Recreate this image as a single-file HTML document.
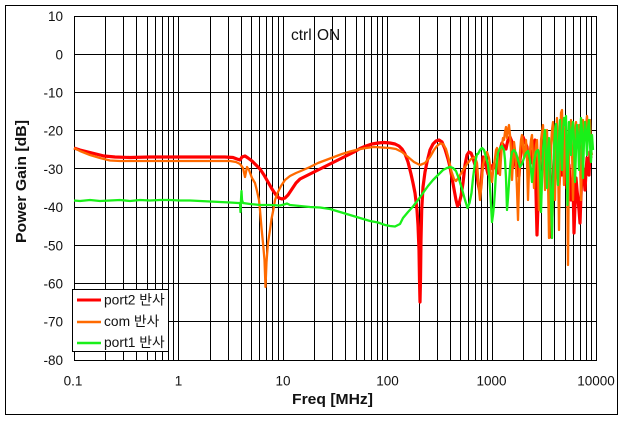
<!DOCTYPE html>
<html>
<head>
<meta charset="utf-8">
<style>
html,body{margin:0;padding:0;background:#fff;}
svg{display:block;}
text{font-family:"Liberation Sans","Noto Sans CJK KR",sans-serif;fill:#111;}
</style>
</head>
<body>
<svg width="625" height="421" viewBox="0 0 625 421" xmlns="http://www.w3.org/2000/svg">
<rect x="0" y="0" width="625" height="421" fill="#fff"/>
<rect x="5.5" y="5.5" width="612" height="409" fill="#fff" stroke="#000" stroke-width="1"/>

<!-- grid -->
<path fill="none" stroke="#000" stroke-width="1" d="
M105.5 16.5V360.5 M123.5 16.5V360.5 M136.5 16.5V360.5 M147.5 16.5V360.5 M155.5 16.5V360.5 M162.5 16.5V360.5 M168.5 16.5V360.5 M173.5 16.5V360.5
M178.5 16.5V360.5 M210.5 16.5V360.5 M228.5 16.5V360.5 M241.5 16.5V360.5 M251.5 16.5V360.5 M259.5 16.5V360.5 M266.5 16.5V360.5 M272.5 16.5V360.5 M278.5 16.5V360.5
M283.5 16.5V360.5 M314.5 16.5V360.5 M332.5 16.5V360.5 M345.5 16.5V360.5 M356.5 16.5V360.5 M364.5 16.5V360.5 M371.5 16.5V360.5 M377.5 16.5V360.5 M382.5 16.5V360.5
M387.5 16.5V360.5 M419.5 16.5V360.5 M437.5 16.5V360.5 M450.5 16.5V360.5 M460.5 16.5V360.5 M468.5 16.5V360.5 M475.5 16.5V360.5 M481.5 16.5V360.5 M487.5 16.5V360.5
M492.5 16.5V360.5 M523.5 16.5V360.5 M541.5 16.5V360.5 M554.5 16.5V360.5 M565.5 16.5V360.5 M573.5 16.5V360.5 M580.5 16.5V360.5 M586.5 16.5V360.5 M591.5 16.5V360.5
M74.5 54.5H596.5 M74.5 92.5H596.5 M74.5 130.5H596.5 M74.5 168.5H596.5 M74.5 207.5H596.5 M74.5 245.5H596.5 M74.5 283.5H596.5 M74.5 321.5H596.5
"/>
<rect x="74.5" y="16.5" width="522" height="344" fill="none" stroke="#000" stroke-width="1"/>

<!-- y tick labels -->
<g font-size="13.5" text-anchor="end">
<text x="63" y="21">10</text>
<text x="63" y="59.5">0</text>
<text x="63" y="97.5">-10</text>
<text x="63" y="135.5">-20</text>
<text x="63" y="174">-30</text>
<text x="63" y="212">-40</text>
<text x="63" y="250.5">-50</text>
<text x="63" y="288.5">-60</text>
<text x="63" y="326.5">-70</text>
<text x="63" y="365">-80</text>
</g>
<!-- x tick labels -->
<g font-size="13.5" text-anchor="middle">
<text x="73" y="385.5">0.1</text>
<text x="178.5" y="385.5">1</text>
<text x="283" y="385.5">10</text>
<text x="387.5" y="385.5">100</text>
<text x="491.5" y="385.5">1000</text>
<text x="596" y="385.5">10000</text>
</g>

<text x="292" y="404" font-size="15" font-weight="bold" textLength="81" lengthAdjust="spacingAndGlyphs">Freq [MHz]</text>
<text transform="translate(26,243) rotate(-90)" x="0" y="0" font-size="15" font-weight="bold" textLength="123" lengthAdjust="spacingAndGlyphs">Power Gain  [dB]</text>

<text x="291" y="40" font-size="15.5">ctrl</text>
<text x="317" y="40" font-size="15.5">ON</text>

<!-- red: port2 -->
<polyline fill="none" stroke="#ff0000" stroke-width="3.2" stroke-linejoin="round" points="
74,148 80,150 88,152 96,154 104,156 115,157 130,157.5 150,157 170,157 190,157 210,157 225,157 233,157.5 237,159 240,160 242,157 245,156 248,158 252,161 256,165 260,169 264,175 268,182 272,189 276,195 279,198 282,199 285,198 288,195 292,189 296,183 300,179 306,176 312,173 318,170 324,167 330,164 336,161 342,158 348,155 354,152 360,148.5 366,146 372,144 378,143 384,142.5 390,143 395,144 399,146 402,149 405,154 408,162 411,174 413,183 415,193 417,210 418,225 419,250 419.5,280 420,302 420.5,280 421,240 421.7,210 423,187 425,172 427,162 430,150 433,144 436,141 439,140 442,142 445,149 448,159 450,167 452,178 454,189 456,200 457.5,206 459,204 461,196 463,183 465,165 467,155 469,152 471,153 473,158 475,165 477,175
478,183 479,188 480,192 481,186 482,172 483,157 484,160 486,166 488,174 490,170 492,166 494,164 496,168 498,173 499,160 500,150 502,143 504,146 506,149 507,144 508,140 510,137 512,142 513,167 514,162 516,158 518,168 519,176 520,160 522,142 523,137 525,142 527,147 528,160 529,155 531,163 532,155 533,148 534,142 535,140 536,193 537,235 538,205 539,170 540,158 541,150 543,140 544,135 546,133 547,150 548,172 549,190 550,205 551,237 552,215 553,178 554,160 555,148 556,142 557,138 558,165 559,185 560,170 561,160 562,175 563,168 564,145 565,160 566,175 567,188 568,178 569,165 570,180 571,200 572,188 573,180 574,233 575,205 576,178 577,190 578,200 579,210 580,223 581,195 582,172 583,168 584,178 585,190 586,172 587,158 588,165 589,175 590,152 591,158"/>

<!-- orange: com -->
<polyline fill="none" stroke="#ff6a00" stroke-width="2.3" stroke-linejoin="round" points="
74,148 80,151 90,155 100,158 110,160.5 120,161 140,161 160,161 180,161 200,161 220,161 230,161 236,162 240,164 243,168 245,177 246,172 247,167 249,170 252,178 255,183 257,191 259,200 260,210 261.5,228 263,243 264.5,260 265.5,287 266.5,262 268,243 270,230 271.5,219 273.3,210 275,200 278,192 281,186 285,180 290,176 296,173 302,170.5 310,167 318,163 326,160 334,157 342,154 350,151.5 358,149.5 366,148 374,147 382,147.5 390,148 396,149 402,152 408,157 414,162 420,165 425,163 430,157 434,150 437,146 440,143.5 443,144 446,149 448.5,158 451,170 454,179 456,181 459,177 463,170 467,164 471,159 475,157 477,163
478,176 479,190 480,200 481,190 482,176 483,165 485,157 487,152 489,158 490,165 491,178 492,182 493,172 494,165 495,158 496,150 497,148 498,156 499,168 500,175 501,158 502,145 503,138 504,140 505,132 506,127 507,138 508,130 509,125 510,135 511,150 512,180 513,160 514,142 515,150 516,165 517,190 518,220 519,185 520,152 521,140 522,135 523,145 524,158 525,150 526,140 527,160 528,200 529,170 530,150 531,140 532,135 533,160 534,188 535,155 536,145 537,140 538,170 539,210 540,170 541,140 542,132 543,125 544,150 545,190 546,150 547,130 548,180 549,238 550,200 551,145 552,130 553,122 554,150 555,200 556,140 557,118 558,160 559,230 560,150 561,113 562,110 563,150 564,185 565,130 566,122 567,160 568,265 569,160 570,130 571,120 572,150 573,200 574,160 575,130 576,122 577,140 578,135 579,125 580,160 581,200 582,150 583,120 584,130 585,135 586,125 587,116 588,130 589,140 590,120 591,150 592,155"/>

<!-- green: port1 -->
<polyline fill="none" stroke="#19f019" stroke-width="2.3" stroke-linejoin="round" points="
74,200.5 80,201 90,200 100,201 110,200.5 120,200 130,201 140,200 150,200.5 160,200 170,200 180,200.5 190,200.5 200,201 210,201.5 220,202 230,202.5 238,203 240,203 240.5,212 241,200 241.5,191 242,200 243,203 250,204 260,205 270,205 280,205.5 284,204.5 287,203.5 290,205 300,206 310,207 320,207.5 330,209 340,212 350,215 360,218 370,221 378,222.5 385,225 390,226 395,226.5 400,224 403,218 408,212 413,206.5 418,200 423,193 428,186 433,180 438,175 443,170 447,168 450,167 453,168 456,171 459,179 462,189 465,200 467.5,208 469.5,203 471.5,193 473,178 475,163 477,154
478,154 480,150 482,148 484,150 486,157 488,165 489,175 490,188 491,205 492,222 493,215 494,205 495,190 496,172 497,160 498,153 500,148 502,146 504,150 505,160 506,178 507,210 508,198 509,183 510,168 511,158 512,152 514,150 516,153 518,160 520,167 522,164 524,158 526,153 528,151 530,160 531,170 532,182 533,172 534,162 536,152 538,150 539,155 540,172 541,212 542,180 543,150 544,138 545,130 546,160 547,188 548,150 549,138 550,160 551,200 552,238 553,190 554,148 555,130 556,124 557,165 558,185 559,140 560,120 561,150 562,170 563,130 564,118 565,125 566,116 567,175 567.5,205 568,160 569,122 570,135 571,155 572,130 573,122 574,140 575,182 576,150 577,125 578,135 579,170 580,140 581,118 582,130 583,178 584,140 585,122 586,135 587,155 588,128 589,120 590,145 591,162 592,135 593,150"/>

<!-- legend -->
<rect x="72.5" y="289.5" width="96" height="62" fill="#fff" stroke="#000" stroke-width="1"/>
<line x1="77" y1="300" x2="101" y2="300" stroke="#ff0000" stroke-width="3"/>
<line x1="77" y1="322" x2="101" y2="322" stroke="#ff6a00" stroke-width="2.5"/>
<line x1="77" y1="343" x2="101" y2="343" stroke="#19f019" stroke-width="2.5"/>
<g font-size="13.8">
<text x="104" y="304.5">port2 반사</text>
<text x="104" y="326">com 반사</text>
<text x="104" y="347">port1 반사</text>
</g>
</svg>
</body>
</html>
